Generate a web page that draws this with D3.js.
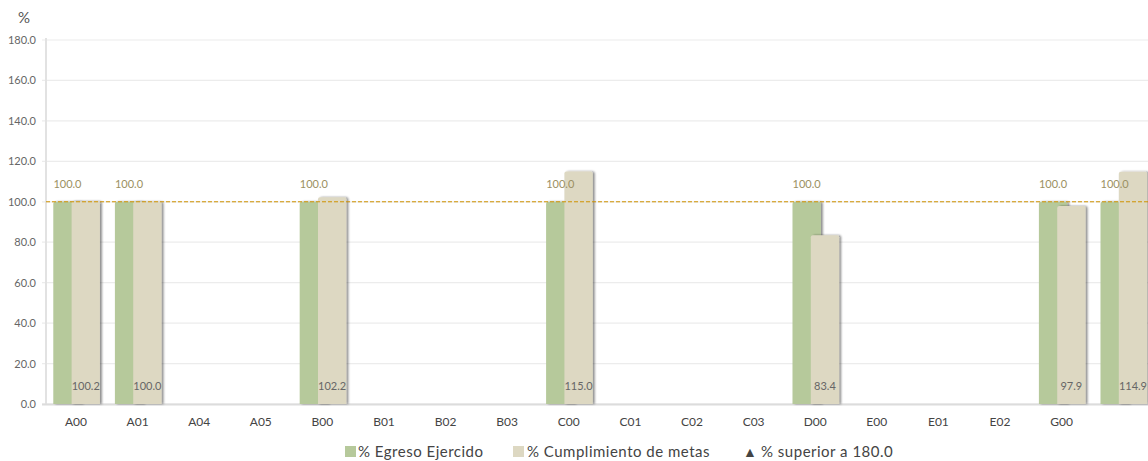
<!DOCTYPE html>
<html>
<head>
<meta charset="utf-8">
<script src="https://cdn.jsdelivr.net/npm/d3@7"></script>
<style>
html,body{margin:0;padding:0;background:#fff;overflow:hidden;}
svg{display:block;font-family:Lato,"Open Sans",sans-serif;}
</style>
</head>
<body>
<svg id="chart" width="1148" height="461"></svg>
<script>
const categories = ["A00","A01","A04","A05","B00","B01","B02","B03","C00","C01","C02","C03","D00","E00","E01","E02","G00",""];
const egreso = [100.0,100.0,null,null,100.0,null,null,null,100.0,null,null,null,100.0,null,null,null,100.0,100.0];
const metas  = [100.2,100.0,null,null,102.2,null,null,null,115.0,null,null,null,83.4,null,null,null,97.9,114.9];
const yTicks = [0,20,40,60,80,100,120,140,160,180];
const refValue = 100;
const legendItems = ["% Egreso Ejercido","% Cumplimiento de metas","% superior a 180.0"];

const svg = d3.select("#chart");
const colGreen = "#b6c99b", colBeige = "#ddd8c2";

const defs = svg.append("defs");
const f = defs.append("filter").attr("id","sh").attr("x","-20%").attr("y","-5%").attr("width","150%").attr("height","110%");
f.append("feDropShadow").attr("dx",2).attr("dy",0).attr("stdDeviation",1.3).attr("flood-color","#000").attr("flood-opacity",0.45);

const x = d3.scaleBand().domain(d3.range(categories.length)).range([45.2, 45.2 + 61.6*categories.length]).paddingInner(0).paddingOuter(0);
const y = d3.scaleLinear().domain([0,180]).range([404,40]);

// gridlines
svg.append("g").selectAll("line").data(yTicks).join("line")
  .attr("x1",42).attr("x2",1148).attr("y1",d=>y(d)).attr("y2",d=>y(d))
  .attr("stroke","#ececec").attr("stroke-width",1.2);

// y axis labels
svg.append("g").selectAll("text").data(yTicks).join("text")
  .attr("x",36).attr("y",d=>y(d)+4).attr("text-anchor","end")
  .attr("font-size",11).attr("fill","#666").text(d=>d.toFixed(1));
svg.append("text").attr("x",18).attr("y",23).attr("font-size",15).attr("fill","#555").text("%");

// axis lines
svg.append("line").attr("x1",46).attr("x2",46).attr("y1",38).attr("y2",405).attr("stroke","#e2e2e2").attr("stroke-width",2);
svg.append("line").attr("x1",42).attr("x2",1148).attr("y1",404.5).attr("y2",404.5).attr("stroke","#dcdcdc").attr("stroke-width",2);

const barW = 28.3, off = 18.3, pad = 8.1;
const barPath = (x0, v) => {const y0=y(v), yb=y(0), r=2;
  return `M${x0},${yb}V${y0+r}Q${x0},${y0} ${x0+r},${y0}H${x0+barW-r}Q${x0+barW},${y0} ${x0+barW},${y0+r}V${yb}Z`;};
const g = svg.append("g");
const gi = d3.range(categories.length).filter(i=>egreso[i]!=null);
g.selectAll("path.eg").data(gi).join("path").attr("class","eg")
  .attr("filter","url(#sh)").attr("fill",colGreen)
  .attr("d",i=>barPath(x(i)+pad, egreso[i]));
const mi = d3.range(categories.length).filter(i=>metas[i]!=null);
g.selectAll("path.me").data(mi).join("path").attr("class","me")
  .attr("filter","url(#sh)").attr("fill",colBeige)
  .attr("d",i=>barPath(x(i)+pad+off, metas[i]));

// reference line
svg.append("line").attr("x1",46).attr("x2",1148).attr("y1",y(refValue)).attr("y2",y(refValue))
  .attr("stroke","#cf9300").attr("stroke-width",1).attr("stroke-dasharray","4,2");

// labels
svg.append("g").selectAll("text").data(gi).join("text")
  .attr("x",i=>x(i)+pad+barW/2).attr("y",i=>y(egreso[i])-14).attr("text-anchor","middle")
  .attr("font-size",11).attr("fill","#9b9062").text(i=>egreso[i].toFixed(1));
svg.append("g").selectAll("text").data(mi).join("text")
  .attr("x",i=>x(i)+pad+off+barW/2).attr("y",390).attr("text-anchor","middle")
  .attr("font-size",11).attr("fill","#666").text(i=>metas[i].toFixed(1));

// x labels
svg.append("g").selectAll("text").data(d3.range(categories.length)).join("text")
  .attr("x",i=>x(i)+x.bandwidth()/2).attr("y",426).attr("text-anchor","middle")
  .attr("font-size",12).attr("fill","#444").text(i=>categories[i]);

// legend
const lg = svg.append("g").attr("font-size",15).attr("fill","#444").attr("letter-spacing","0.5px");
lg.append("rect").attr("x",345).attr("y",446).attr("width",11).attr("height",11).attr("fill",colGreen);
lg.append("text").attr("x",358).attr("y",457).text(legendItems[0]);
lg.append("rect").attr("x",513).attr("y",446).attr("width",11).attr("height",11).attr("fill",colBeige);
lg.append("text").attr("x",527).attr("y",457).text(legendItems[1]);
lg.append("text").attr("x",743).attr("y",457).attr("letter-spacing","0").attr("font-size",14).text("▲");
lg.append("text").attr("x",761).attr("y",457).text(legendItems[2]);
</script>
</body>
</html>
